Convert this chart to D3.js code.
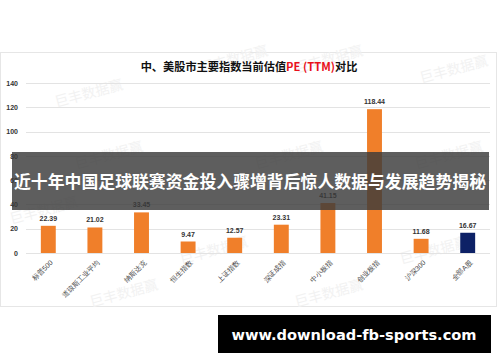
<!DOCTYPE html>
<meta charset="utf-8">
<style>
body { margin: 0; background: #fff; font-family: "Noto Sans CJK SC", sans-serif; }
</style>
<body>
<script src="https://cdn.jsdelivr.net/npm/d3@7"></script>
<script>
var categories = ["标普500", "道琼斯工业平均", "纳斯达克", "恒生指数", "上证指数", "深证成指", "中小板指", "创业板指", "沪深300", "全部A股"];
var peValues = [22.39, 21.02, 33.45, 9.47, 12.57, 23.31, 41.15, 118.44, 11.68, 16.67];
var yTicks = [0, 20, 40, 60, 80, 100, 120, 140];
var headline = "近十年中国足球联赛资金投入骤增背后惊人数据与发展趋势揭秘";
var siteText = "www.download-fb-sports.com";

var W = 500, H = 362;
var svg = d3.select("body").append("svg").attr("width", W).attr("height", H);

// chart panel
svg.append("rect").attr("x", 0.5).attr("y", 52.5).attr("width", 496).attr("height", 254)
  .attr("fill", "#fff").attr("stroke", "#e6e6e6");

// faint watermarks
var marks = [[90, 98], [235, 64], [330, 64], [455, 74], [110, 160], [290, 160], [450, 160], [45, 215], [215, 255], [435, 255], [125, 298], [330, 298]];
svg.selectAll(".wm").data(marks).enter().append("text")
  .attr("transform", function(d) { return "translate(" + d[0] + "," + d[1] + ") rotate(-15)"; })
  .attr("font-size", 14).attr("fill", "#f2f2f2").attr("text-anchor", "middle")
  .text("巨丰数据赢");

var x = d3.scaleBand().domain(categories).range([25, 491]).paddingInner(0.68).paddingOuter(0.34);
var y = d3.scaleLinear().domain([0, 140]).range([253, 83]);

// gridlines
svg.append("g").selectAll("line").data(yTicks).enter().append("line")
  .attr("x1", 26).attr("x2", 490)
  .attr("y1", function(d) { return Math.round(y(d)) + 0.5; })
  .attr("y2", function(d) { return Math.round(y(d)) + 0.5; })
  .attr("stroke", "#e3e3e3");

var yAxis = svg.append("g").attr("transform", "translate(18,0)")
  .call(d3.axisLeft(y).tickValues(yTicks).tickSize(0).tickPadding(0));
yAxis.select(".domain").remove();
yAxis.selectAll("text").attr("font-size", 7).attr("font-weight", "bold").attr("fill", "#333")
  .attr("font-family", "Liberation Sans, sans-serif");

// bars
svg.append("g").selectAll("rect").data(categories).enter().append("rect")
  .attr("x", function(d) { return x(d); })
  .attr("y", function(d, i) { return y(peValues[i]); })
  .attr("width", x.bandwidth())
  .attr("height", function(d, i) { return y(0) - y(peValues[i]); })
  .attr("fill", function(d, i) { return i === categories.length - 1 ? "#0d2166" : "#f07f2a"; });

svg.append("g").selectAll("text").data(categories).enter().append("text")
  .attr("x", function(d) { return x(d) + x.bandwidth() / 2; })
  .attr("y", function(d, i) { return y(peValues[i]) - 5; })
  .attr("text-anchor", "middle").attr("font-size", 7).attr("font-weight", "bold")
  .attr("fill", "#333").attr("font-family", "Liberation Sans, sans-serif")
  .text(function(d, i) { return peValues[i].toFixed(2); });

// x labels
var xAxis = svg.append("g").attr("transform", "translate(0,253)")
  .call(d3.axisBottom(x).tickSize(0).tickPadding(0));
xAxis.select(".domain").remove();
xAxis.selectAll("text")
  .attr("font-size", 7).attr("fill", "#444")
  .attr("text-anchor", "end")
  .attr("dy", 0)
  .attr("transform", "translate(5,10) rotate(-45)");

// chart title
var title = svg.append("text").attr("x", 249).attr("y", 71).attr("text-anchor", "middle")
  .attr("font-size", 11.2).attr("font-weight", "bold").attr("fill", "#111");
title.append("tspan").text("中、美股市主要指数当前估值");
title.append("tspan").attr("fill", "#e8101a").text("PE (TTM)");
title.append("tspan").text("对比");

// headline banner
svg.append("rect").attr("x", 12).attr("y", 152).attr("width", 477).attr("height", 58)
  .attr("fill", "#3a3a3a").attr("opacity", 0.82);
svg.append("text").attr("x", 14).attr("y", 188)
  .attr("font-size", 17).attr("font-weight", "bold").attr("fill", "#fff")
  .attr("textLength", 472).attr("lengthAdjust", "spacingAndGlyphs")
  .text(headline);

// site box
svg.append("rect").attr("x", 218).attr("y", 315).attr("width", 273).attr("height", 38).attr("fill", "#000");
svg.append("text").attr("x", 354).attr("y", 340).attr("text-anchor", "middle")
  .attr("font-size", 14.6).attr("font-weight", "bold").attr("fill", "#fff")
  .attr("font-family", "DejaVu Sans, sans-serif")
  .text(siteText);
</script>
</body>
